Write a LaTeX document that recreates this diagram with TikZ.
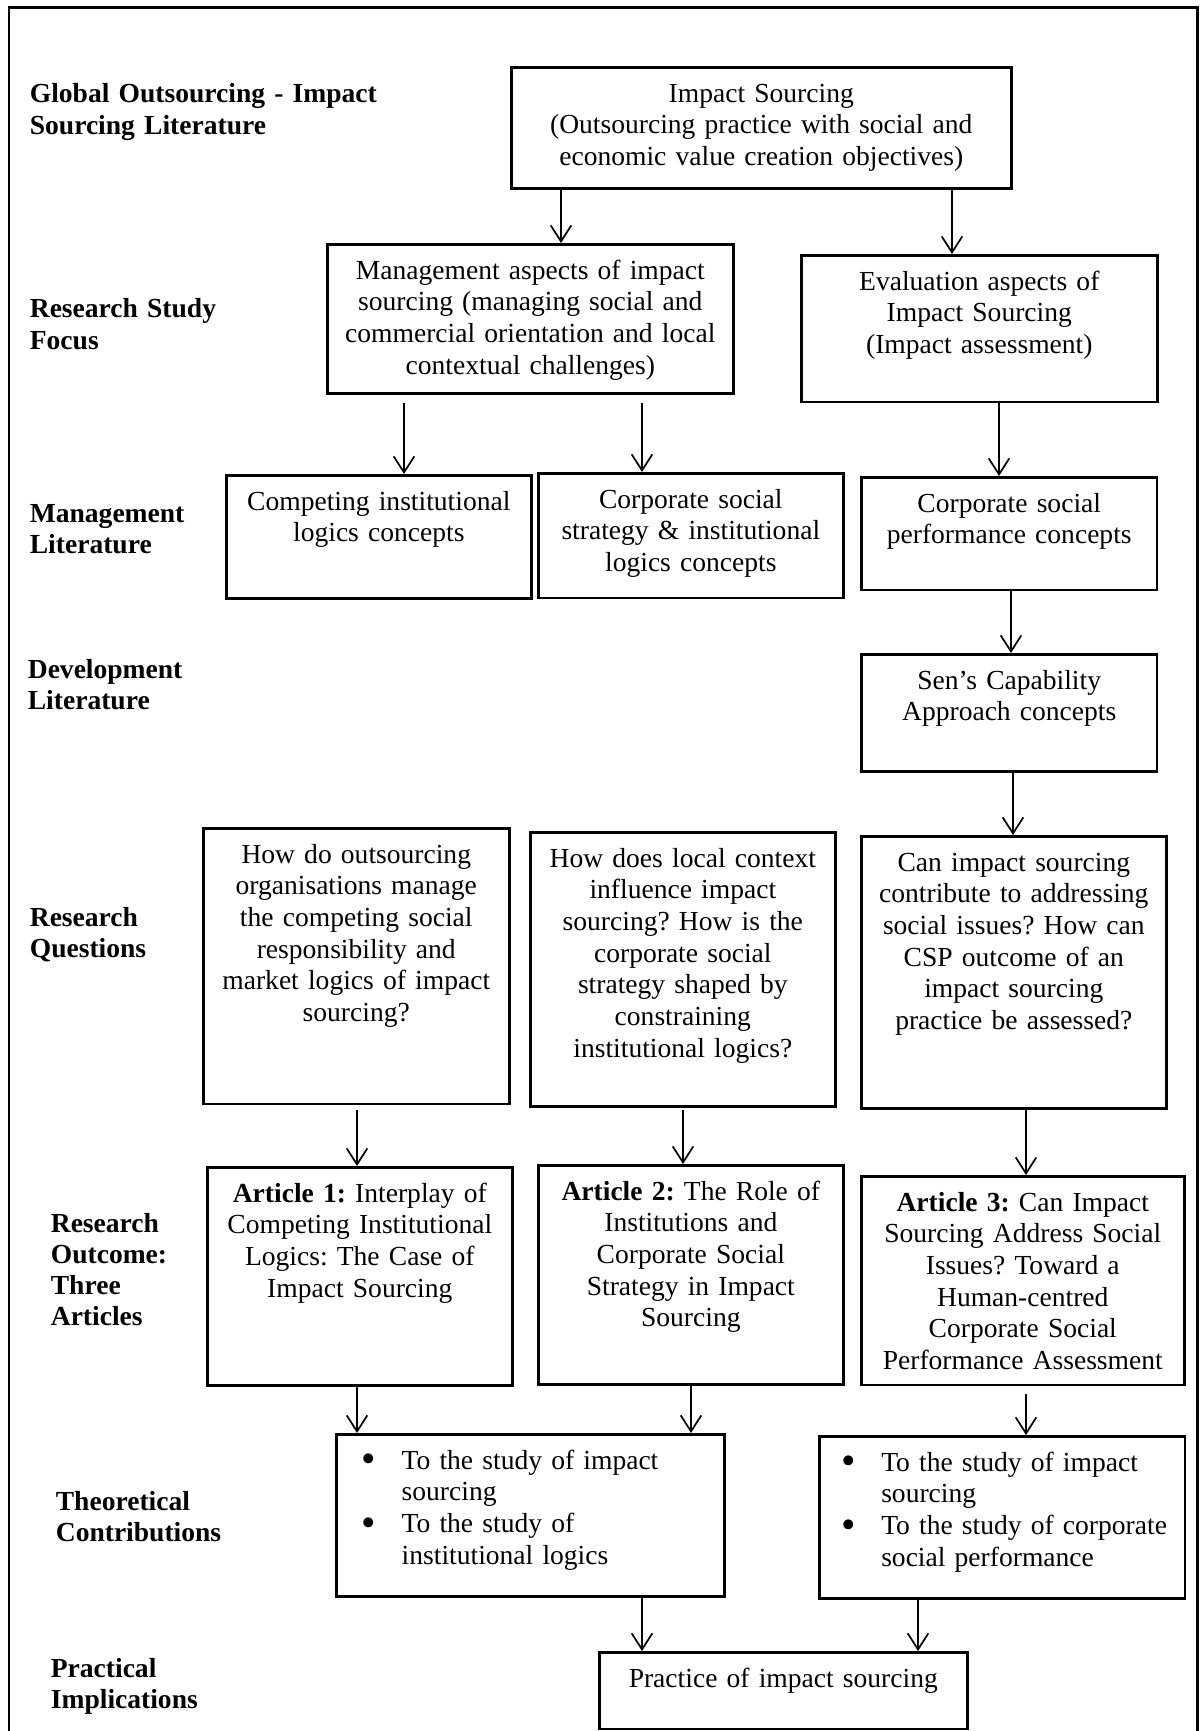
\documentclass[tikz,border=0pt]{standalone}
\usepackage{fontspec}
\setmainfont{Liberation Serif}
\usetikzlibrary{arrows.meta}
\frenchspacing

\newcommand{\bulitem}[1]{\makebox[17.5pt][l]{\raisebox{-1.6pt}{\scalebox{1.5}{\textbullet}}}\mbox{#1}}
\newcommand{\bulcont}[1]{\hspace*{17.5pt}\mbox{#1}}

\tikzset{
  blk/.style={draw,line width=1.1pt,anchor=north west,align=center,
    inner xsep=2pt,inner ysep=6.2pt,text height=9pt},
  lst/.style={blk,align=left,inner xsep=#1},
  lbl/.style={anchor=base west,align=left,text width=170pt,inner sep=0pt,
    font=\fontsize{12}{13.6}\selectfont\bfseries},
}

\begin{document}
\begin{tikzpicture}
  [->,>={Straight Barb[length=7pt,width=9pt]},line width=0.75pt,
   x=0.4356pt,y=-0.4356pt,
   every node/.append style={font=\fontsize{12}{13.8}\selectfont}]

  \useasboundingbox (0,0) rectangle (1201,1731);
  \draw[-,line width=1.3pt] (9,1731) -- (9,8) -- (1197,8) -- (1197,1731);

  % row labels
  \node[lbl] (lglobal) at (29,103) {Global Outsourcing - Impact\\Sourcing Literature};
  \node[lbl] (lfocus) at (29,318) {Research Study\\Focus};
  \node[lbl] (lmgmt) at (29,522) {Management\\Literature};
  \node[lbl] (ldev) at (27,678) {Development\\Literature};
  \node[lbl] (lquest) at (29,926) {Research\\Questions};
  \node[lbl] (lout) at (50,1232) {Research\\Outcome:\\Three\\Articles};
  \node[lbl] (ltheo) at (55,1510) {Theoretical\\Contributions};
  \node[lbl] (lprac) at (50,1677) {Practical\\Implications};

  % boxes
  \node[blk,text width=213.8pt,text depth=31.3pt] (is) at (510,66)
    {Impact Sourcing\\(Outsourcing practice with social and\\economic value creation objectives)};
  \node[blk,text width=172.9pt,text depth=43.5pt] (ma) at (326,243)
    {Management aspects of impact\\sourcing (managing social and\\commercial orientation and local\\contextual challenges)};
  \node[blk,text width=151.1pt,text depth=42.6pt] (ea) at (800,254)
    {Evaluation aspects of\\Impact Sourcing\\(Impact assessment)};

  \node[blk,text width=128.9pt,text depth=32.2pt] (cil) at (225,474)
    {Competing institutional\\logics concepts};
  \node[blk,text width=128.9pt,text depth=33pt] (css) at (537,472)
    {Corporate social\\strategy \& institutional\\logics concepts};
  \node[blk,text width=124.9pt,text depth=27.8pt] (csp) at (860,476)
    {Corporate social\\performance concepts};
  \node[blk,text width=124.9pt,text depth=29.6pt] (sen) at (860,653)
    {Sen's Capability\\Approach concepts};

  \node[blk,text width=129.3pt,text depth=98.8pt] (rq1) at (202,827)
    {How do outsourcing\\organisations manage\\the competing social\\responsibility and\\market logics of impact\\sourcing?};
  \node[blk,text width=128.9pt,text depth=98pt] (rq2) at (529,831)
    {How does local context\\influence impact\\sourcing? How is the\\corporate social\\strategy shaped by\\constraining\\institutional logics?};
  \node[blk,text width=128.9pt,text depth=97.1pt] (rq3) at (860,835)
    {Can impact sourcing\\contribute to addressing\\social issues? How can\\CSP outcome of an\\impact sourcing\\practice be assessed?};

  \node[blk,text width=128.9pt,text depth=73.6pt] (art1) at (206,1166)
    {\textbf{Article 1:} Interplay of\\Competing Institutional\\Logics: The Case of\\Impact Sourcing};
  \node[blk,text width=128.9pt,text depth=74pt] (art2) at (537,1164)
    {\textbf{Article 2:} The Role of\\Institutions and\\Corporate Social\\Strategy in Impact\\Sourcing};
  \node[blk,text width=136.7pt,text depth=69.6pt] (art3) at (860,1175)
    {\textbf{Article 3:} Can Impact\\Sourcing Address Social\\Issues? Toward a\\Human-centred\\Corporate Social\\Performance Assessment};

  \node[lst=11pt,text width=147pt,text depth=49.2pt] (tc1) at (335,1433)
    {\bulitem{To the study of impact}\\\bulcont{sourcing}\\\bulitem{To the study of}\\\bulcont{institutional logics}};
  \node[lst=9.5pt,text width=140.4pt,text depth=49.2pt] (tc2) at (818,1435)
    {\bulitem{To the study of impact}\\\bulcont{sourcing}\\\bulitem{To the study of corporate}\\\bulcont{social performance}};

  \node[blk,text width=156.3pt,text depth=12.1pt] (prac) at (598,1651)
    {Practice of impact sourcing};

  % arrows
  \path (is.south -| 561,0) edge (ma.north -| 561,0);
  \path (is.south -| 952,0) edge (ea.north -| 952,0);
  \path (ma.south -| 404,0) edge[shorten <=3.5pt] (cil.north -| 404,0);
  \path (ma.south -| 642,0) edge[shorten <=3.5pt] (css.north -| 642,0);
  \path (ea.south -| 999,0) edge (csp.north -| 999,0);
  \path (csp.south -| 1011,0) edge (sen.north -| 1011,0);
  \path (sen.south -| 1013,0) edge (rq3.north -| 1013,0);
  \path (rq1.south -| 357,0) edge[shorten <=2pt] (art1.north -| 357,0);
  \path (rq2.south -| 683,0) edge[shorten <=1pt] (art2.north -| 683,0);
  \path (rq3.south -| 1026,0) edge (art3.north -| 1026,0);
  \path (art1.south -| 357,0) edge (tc1.north -| 357,0);
  \path (art2.south -| 691,0) edge (tc1.north -| 691,0);
  \path (art3.south -| 1026,0) edge[shorten <=3.5pt] (tc2.north -| 1026,0);
  \path (tc1.south -| 642,0) edge (prac.north -| 642,0);
  \path (tc2.south -| 918,0) edge (prac.north -| 918,0);
\end{tikzpicture}
\end{document}
